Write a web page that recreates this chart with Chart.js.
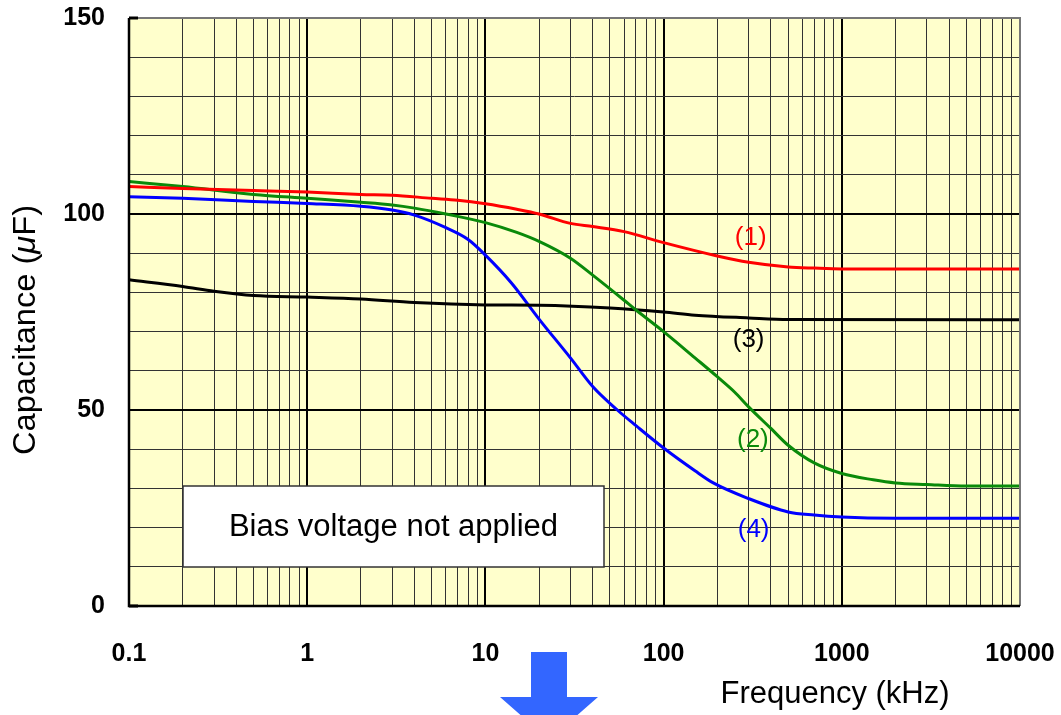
<!DOCTYPE html>
<html>
<head>
<meta charset="utf-8">
<script src="https://cdn.jsdelivr.net/npm/chart.js@4/dist/chart.umd.min.js"></script>
<style>
  html, body { margin: 0; padding: 0; background: #ffffff; }
  #wrap { width: 1061px; height: 715px; position: relative; }
</style>
</head>
<body>
<div id="wrap"><canvas id="c" width="1061" height="715"></canvas></div>
<script>
// ---- data (frequency in kHz, capacitance in µF) ----
const freq1 = [0.1, 0.2, 0.5, 1, 2, 3, 5, 7, 10, 15, 20, 30, 40, 60, 100, 200, 300, 500, 700, 1000, 10000];
const cap1  = [107, 106.5, 106, 105.6, 105, 104.8, 104, 103.5, 102.6, 101.2, 100, 97.6, 96.8, 95.5, 92.7, 89.3, 87.7, 86.5, 86.2, 86, 86];

const freq2 = [0.1, 0.2, 0.5, 1, 2, 3, 4, 6, 10, 15, 20, 30, 40, 60, 70, 100, 150, 200, 250, 300, 400, 500, 700, 1000, 1500, 2000, 3000, 5000, 10000];
const cap2  = [108.3, 107, 105, 104, 103, 102.3, 101.5, 100, 97.8, 95.3, 93, 88.7, 84.4, 78, 75.5, 70, 63.3, 58.5, 54.6, 50.8, 45.3, 41, 36.5, 33.8, 32.2, 31.4, 31, 30.6, 30.6];

const freq3 = [0.1, 0.2, 0.3, 0.5, 1, 2, 4, 10, 20, 50, 100, 150, 300, 500, 10000];
const cap3  = [83.2, 81.5, 80.3, 79.2, 78.8, 78.3, 77.4, 76.8, 76.7, 76, 75, 74.2, 73.5, 73.1, 73];

const freq4 = [0.1, 0.2, 0.5, 1, 2, 3, 4, 6, 8, 10, 14, 20, 30, 40, 55, 70, 100, 150, 190, 300, 500, 700, 1000, 2000, 10000];
const cap4  = [104.4, 104, 103.2, 102.7, 102, 101, 99.7, 96.5, 93.5, 89.5, 82.4, 73.2, 63.3, 56, 50, 46, 40.3, 34.5, 31.4, 27.4, 24, 23.2, 22.7, 22.4, 22.4];

const seriesNames  = ['(1)', '(2)', '(3)', '(4)'];
const seriesColors = ['#ff0000', '#0a8a0a', '#000000', '#0000ff'];
// label anchor positions (kHz, µF)
const labelFreq = [308, 317, 300, 320];
const labelCap  = [93.9, 42.3, 67.9, 19.4];

const xTickLabels = ['0.1', '1', '10', '100', '1000', '10000'];
const yTickLabels = ['0', '50', '100', '150'];
const noteText = 'Bias voltage not applied';
const xTitle = 'Frequency (kHz)';
const yTitleParts = [['Capacitance (', false], ['μ', true], ['F)', false]];

// grid values for the log axis: 1..9 x each decade
const xGridValues = [];
for (let d = -1; d <= 3; d++) {
  for (let m = 1; m <= 9; m++) xGridValues.push(+(m * Math.pow(10, d)).toPrecision(6));
}
xGridValues.push(10000);

function pts(fs, cs) { return fs.map((f, i) => ({ x: f, y: cs[i] })); }
const allF = [freq1, freq2, freq3, freq4];
const allC = [cap1, cap2, cap3, cap4];

const FONT = "'Liberation Sans', Arial, sans-serif";

function isDecade(v) {
  const l = Math.log10(v);
  return Math.abs(l - Math.round(l)) < 1e-6;
}

const decorPlugin = {
  id: 'decor',
  beforeDraw(chart) {
    const { ctx, chartArea: a } = chart;
    ctx.save();
    ctx.fillStyle = '#ffffcc';
    ctx.fillRect(a.left, a.top, a.right - a.left, a.bottom - a.top);
    ctx.restore();
  },
  afterDatasetsDraw(chart) {
    const { ctx, chartArea: a, scales } = chart;
    ctx.save();
    // top & right frame (grey)
    ctx.strokeStyle = '#777777';
    ctx.lineWidth = 2;
    ctx.beginPath();
    ctx.moveTo(a.left, a.top); ctx.lineTo(a.right, a.top); ctx.lineTo(a.right, a.bottom);
    ctx.stroke();
    // left axis & bottom (black)
    ctx.strokeStyle = '#000';
    ctx.lineWidth = 2.5;
    ctx.beginPath();
    ctx.moveTo(a.left, a.top); ctx.lineTo(a.left, a.bottom); ctx.lineTo(a.right, a.bottom);
    ctx.stroke();
    // small inner ticks on y axis at major values
    ctx.lineWidth = 3;
    [0, 150].forEach(v => {
      const y = scales.y.getPixelForValue(v);
      ctx.beginPath(); ctx.moveTo(a.left, y); ctx.lineTo(a.left + 9, y); ctx.stroke();
    });

    // series labels
    ctx.font = '26px ' + FONT;
    ctx.textAlign = 'center';
    ctx.textBaseline = 'middle';
    seriesNames.forEach((n, i) => {
      ctx.fillStyle = seriesColors[i];
      ctx.fillText(n, scales.x.getPixelForValue(labelFreq[i]), scales.y.getPixelForValue(labelCap[i]));
    });

    // note box
    const bx = 183, by = 486, bw = 421, bh = 81;
    ctx.fillStyle = '#ffffff';
    ctx.fillRect(bx, by, bw, bh);
    ctx.strokeStyle = '#333333';
    ctx.lineWidth = 1.5;
    ctx.strokeRect(bx, by, bw, bh);
    ctx.fillStyle = '#000';
    ctx.font = '31px ' + FONT;
    ctx.fillText(noteText, bx + bw / 2, by + bh / 2 + 1);

    // x axis title
    ctx.font = '31px ' + FONT;
    ctx.fillStyle = '#000';
    ctx.fillText(xTitle, 835, 694);

    // y axis title (rotated, italic mu)
    ctx.save();
    ctx.translate(35, 455);
    ctx.rotate(-Math.PI / 2);
    ctx.textAlign = 'left';
    ctx.textBaseline = 'alphabetic';
    let total = 0;
    yTitleParts.forEach(([t, it]) => { ctx.font = (it ? 'italic ' : '') + '31px ' + FONT; total += ctx.measureText(t).width; });
    const sx = 250 / total;
    ctx.scale(sx, 1);
    let xx = 0;
    yTitleParts.forEach(([t, it]) => {
      ctx.font = (it ? 'italic ' : '') + '31px ' + FONT;
      ctx.fillText(t, xx, 0);
      xx += ctx.measureText(t).width;
    });
    ctx.restore();

    // blue arrow
    ctx.fillStyle = '#3366ff';
    ctx.beginPath();
    ctx.moveTo(531, 652); ctx.lineTo(567, 652); ctx.lineTo(567, 697);
    ctx.lineTo(598, 697); ctx.lineTo(549, 740); ctx.lineTo(500, 697);
    ctx.lineTo(531, 697); ctx.closePath();
    ctx.fill();
    ctx.restore();
  }
};

new Chart(document.getElementById('c'), {
  type: 'line',
  data: {
    datasets: allF.map((f, i) => ({
      label: seriesNames[i],
      data: pts(f, allC[i]),
      borderColor: seriesColors[i],
      backgroundColor: seriesColors[i],
      borderWidth: 3,
      pointRadius: 0,
      cubicInterpolationMode: 'monotone',
      fill: false
    }))
  },
  options: {
    responsive: false,
    animation: false,
    events: [],
    layout: { padding: { top: 18, right: 41, bottom: 0, left: 0 } },
    plugins: { legend: { display: false }, tooltip: { enabled: false } },
    scales: {
      x: {
        type: 'logarithmic',
        min: 0.1, max: 10000,
        afterBuildTicks(s) { s.ticks = xGridValues.map(v => ({ value: v })); },
        afterFit(s) { s.height = 109; s.paddingLeft = 0; s.paddingRight = 0; },
        border: { display: false },
        grid: {
          drawTicks: false,
          color: c => (c.tick && c.tick.value === 10000) ? 'rgba(0,0,0,0)' : (isDecade(c.tick.value) ? '#000000' : '#333333'),
          lineWidth: c => isDecade(c.tick.value) ? 2 : 1
        },
        ticks: {
          autoSkip: false, maxRotation: 0, padding: 33,
          color: '#000',
          font: { family: FONT, size: 25, weight: 'bold' },
          callback: (v) => {
            if (!isDecade(v)) return '';
            const k = Math.round(Math.log10(v)) + 1;
            return xTickLabels[k] !== undefined ? xTickLabels[k] : '';
          }
        }
      },
      y: {
        type: 'linear',
        min: 0, max: 150,
        afterFit(s) { s.width = 129; s.paddingTop = 0; s.paddingBottom = 0; },
        border: { display: false },
        grid: {
          drawTicks: false,
          color: c => c.tick.value === 150 ? 'rgba(0,0,0,0)' : (c.tick.value % 50 === 0 ? '#000000' : '#333333'),
          lineWidth: c => c.tick.value % 50 === 0 ? 2 : 1
        },
        ticks: {
          stepSize: 10, padding: 24,
          color: '#000',
          font: { family: FONT, size: 25, weight: 'bold' },
          callback: (v) => v % 50 === 0 ? yTickLabels[v / 50] : ''
        }
      }
    }
  },
  plugins: [decorPlugin]
});
</script>
</body>
</html>
